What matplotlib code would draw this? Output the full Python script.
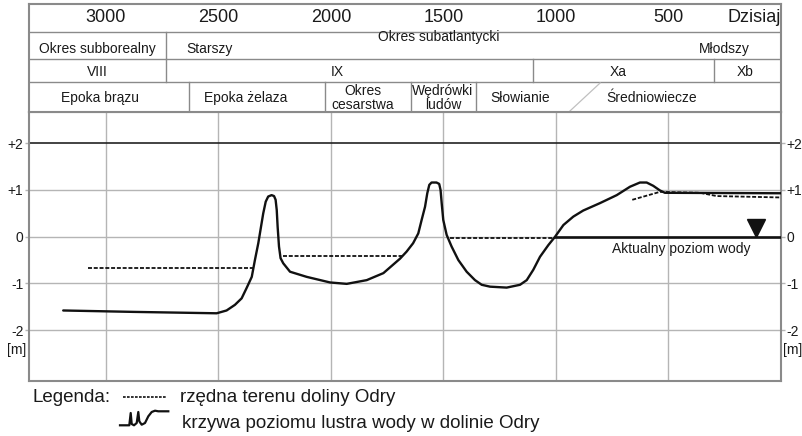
import numpy as np
import matplotlib
matplotlib.use("Agg")
import matplotlib.pyplot as plt

plt.rcParams['font.family'] = ['Liberation Sans', 'DejaVu Sans']

# --- data (years before present, metres relative to today's water level) ---
curve_years = [3190, 2879, 2508, 2464, 2427, 2397, 2375, 2352, 2338, 2323, 2311, 2301,
               2290, 2279, 2264, 2253, 2246, 2241, 2237, 2231, 2224, 2212, 2182, 2108,
               2004, 1930, 1841, 1767, 1693, 1664, 1635, 1612, 1597, 1582, 1572, 1563,
               1553, 1531, 1519, 1513, 1508, 1501, 1486, 1464, 1434, 1397, 1360, 1330,
               1293, 1219, 1160, 1130, 1101, 1071, 1034, 1004, 967, 923, 879, 804,
               730, 671, 627, 597, 568, 538, 516, 0]
curve_level = [-1.58, -1.61, -1.64, -1.58, -1.46, -1.32, -1.10, -0.86, -0.50, -0.14, 0.21, 0.50,
               0.75, 0.86, 0.89, 0.87, 0.79, 0.57, 0.21, -0.21, -0.46, -0.57, -0.75, -0.86,
               -0.98, -1.01, -0.93, -0.78, -0.47, -0.32, -0.14, 0.07, 0.36, 0.64, 0.93, 1.11,
               1.16, 1.16, 1.13, 1.00, 0.72, 0.36, 0.04, -0.21, -0.50, -0.75, -0.93, -1.03,
               -1.07, -1.09, -1.03, -0.93, -0.71, -0.43, -0.18, 0.0, 0.25, 0.43, 0.56, 0.72,
               0.89, 1.07, 1.16, 1.16, 1.09, 0.99, 0.94, 0.93]

water_years = [1004, 0]
water_level = [0.0, 0.0]

terrain = [
    ([3080, 2347], [-0.66, -0.66]),
    ([2215, 1680], [-0.42, -0.42]),
    ([1471, 1004], [-0.03, -0.03]),
    ([661, 538, 360, 286, 0], [0.79, 0.96, 0.94, 0.87, 0.84]),
]

marker_year, marker_level = 111, 0.18

year_ticks = [3000, 2500, 2000, 1500, 1000, 500]
level_ticks = [-2, -1, 0, 1, 2]
level_labels = ['-2', '-1', '0', '+1', '+2']

# header rows: (label, year position)
row_climate = [('Okres subborealny', 3038), ('Młodszy', 253)]
row_climate_div = [2733]
row_zones = [('VIII', 3036), ('IX', 1973), ('Xa', 724), ('Xb', 160)]
row_zones_div = [2733, 1102, 298]
row_epochs = [('Epoka brązu', 3027), ('Epoka żelaza', 2378), ('Okres\ncesarstwa', 1858),
              ('Wędrówki\nludów', 1502), ('Słowianie', 1160), ('Średniowiecze', 573)]
row_epochs_div = [2631, 2027, 1644, 1356]

XMIN, XMAX = 3342, 0
frame_c = '#8a8a8a'
grid_c = '#b5b5b5'
txt_c = '#1a1a1a'

fig = plt.figure(figsize=[8.02, 4.36], dpi=100)
W, H = 802.0, 436.0
ax = fig.add_axes([29/W, 55/H, 752/W, 269/H])
hd = fig.add_axes([29/W, 324/H, 752/W, 108/H])

# --- main plot ---
ax.set_xlim(XMIN, XMAX)
ax.set_ylim(-3.09, 2.67)
for yr in year_ticks:
    ax.axvline(yr, color=grid_c, lw=1.0, zorder=1)
for lv in level_ticks[:-1]:
    ax.axhline(lv, color=grid_c, lw=1.0, zorder=1)
ax.axhline(2, color='#222222', lw=1.2, zorder=1)

ax.plot(curve_years, curve_level, '-', color='#111111', lw=1.7, zorder=3,
        solid_joinstyle='round', solid_capstyle='round')
ax.plot(water_years, water_level, '-', color='#111111', lw=1.9, zorder=3)
for xs, ys in terrain:
    ax.plot(xs, ys, color='#111111', lw=1.3, linestyle=(0, (2.2, 1.0)), zorder=4)
ax.plot([marker_year], [marker_level], 'v', color='#111111', ms=13, zorder=5)
ax.text(444, -0.27, 'Aktualny poziom wody', ha='center', va='center',
        fontsize=10, color=txt_c)

ax.set_xticks([])
ax.set_yticks(level_ticks)
ax.set_yticklabels(level_labels)
ax.tick_params(axis='y', which='both', left=True, right=True, labelleft=True,
               labelright=True, length=3, width=1, color=grid_c, pad=1,
               labelsize=10, labelcolor=txt_c)
for sp in ax.spines.values():
    sp.set_color(frame_c)
    sp.set_linewidth(1.5)
ax.text(-0.003, -2.42, '[m]', transform=ax.get_yaxis_transform(), ha='right',
        va='center', fontsize=10, color=txt_c)
ax.text(1.003, -2.42, '[m]', transform=ax.get_yaxis_transform(), ha='left',
        va='center', fontsize=10, color=txt_c)

# --- header table ---
hd.set_xlim(XMIN, XMAX)
hd.set_ylim(112, 4)
hd.set_xticks([])
hd.set_yticks([])
for sp in hd.spines.values():
    sp.set_color(frame_c)
    sp.set_linewidth(1.5)
for yb in [32, 59, 82]:
    hd.axhline(yb, color=frame_c, lw=1.0)
for xd in row_climate_div:
    hd.plot([xd, xd], [32, 59], color=frame_c, lw=1.0)
for xd in row_zones_div:
    hd.plot([xd, xd], [59, 82], color=frame_c, lw=1.0)
for xd in row_epochs_div:
    hd.plot([xd, xd], [82, 112], color=frame_c, lw=1.0)
hd.plot([938, 804], [111, 83], color='#c0c0c0', lw=0.9)

for yr in year_ticks:
    hd.text(yr, 18, str(yr), ha='center', va='center', fontsize=13, color=txt_c)
hd.text(0, 18, 'Dzisiaj', ha='right', va='center', fontsize=13, color=txt_c,
        clip_on=True)
for lab, yr in row_climate:
    hd.text(yr, 49, lab, ha='center', va='center', fontsize=10, color=txt_c)
hd.text(2644, 49, 'Starszy', ha='left', va='center', fontsize=10, color=txt_c)
hd.text(1520, 37.5, 'Okres subatlantycki', ha='center', va='center', fontsize=10,
        color=txt_c)
for lab, yr in row_zones:
    hd.text(yr, 72, lab, ha='center', va='center', fontsize=10, color=txt_c)
for lab, yr in row_epochs:
    hd.text(yr, 98, lab, ha='center', va='center', fontsize=10, color=txt_c,
            linespacing=0.95)

# --- legend below ---
lg = fig.add_axes([0, 0, 1, 55/H])
lg.set_xlim(0, W)
lg.set_ylim(436, 381)
lg.axis('off')
lg.text(32, 397, 'Legenda:', ha='left', va='center', fontsize=13.5, color=txt_c)
lg.plot([123, 167], [397, 397], color='#111111', lw=1.2, linestyle=(0, (1.6, 0.8)))
lg.text(180, 397, 'rzędna terenu doliny Odry', ha='left', va='center',
        fontsize=13.5, color=txt_c)
icon_x = [120, 129.3, 130.7, 131.7, 134, 136.7, 138.3, 139.3, 141.7, 145, 148.3,
          151.7, 155, 158.3, 168.3]
icon_y = [425.3, 425.3, 413, 424, 425.3, 423, 412, 421.3, 424.7, 423, 416.3,
          412, 410.7, 411.3, 411.3]
lg.plot(icon_x, icon_y, color='#111111', lw=1.6, solid_joinstyle='round')
lg.text(182, 423, 'krzywa poziomu lustra wody w dolinie Odry', ha='left',
        va='center', fontsize=13.5, color=txt_c)

fig.savefig('out.png', dpi=100)
